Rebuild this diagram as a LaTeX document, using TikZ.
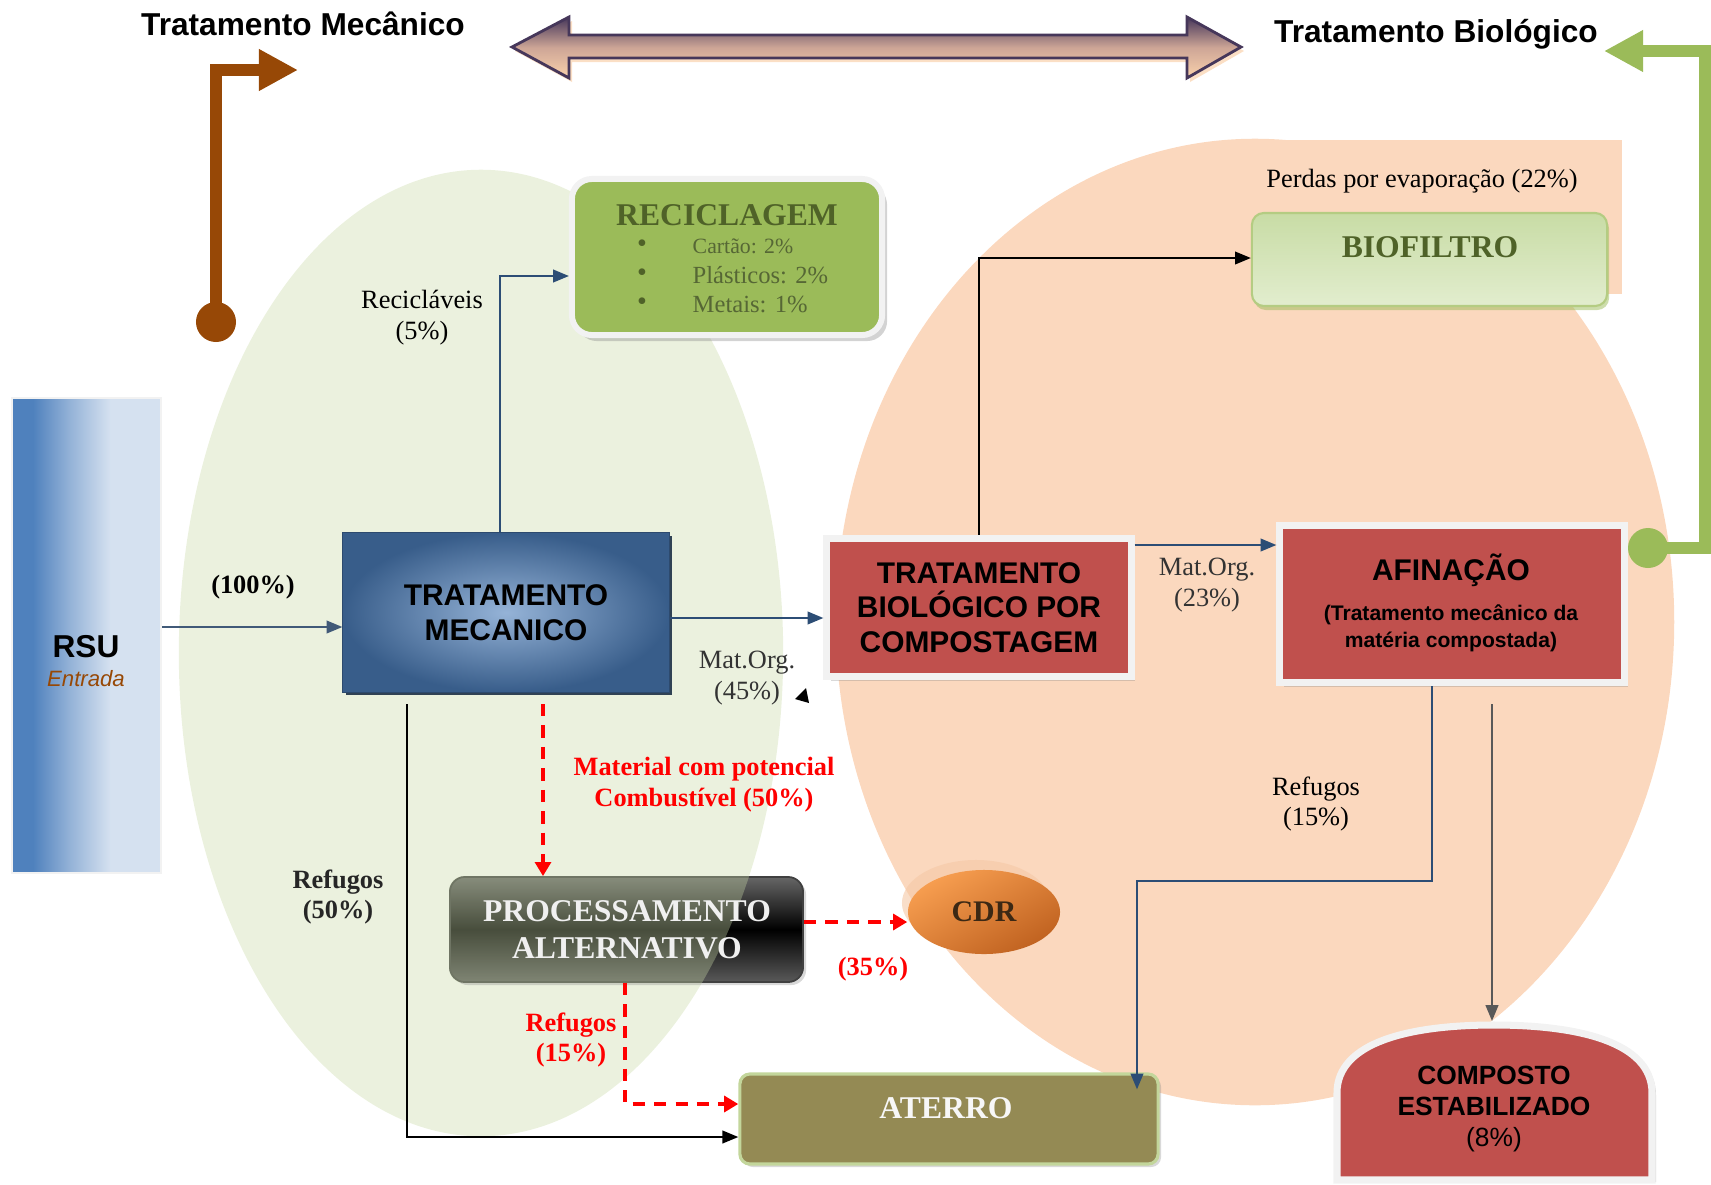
\documentclass[tikz,border=0pt]{standalone}
\usepackage{fontspec}
\setmainfont{Liberation Serif}
\setsansfont{Liberation Sans}
\usetikzlibrary{arrows.meta, positioning, shapes.geometric, shadows, calc}

\definecolor{mecgreen}{RGB}{235,241,222}
\definecolor{biopeach}{RGB}{251,216,190}
\definecolor{flowblue}{RGB}{44,77,117}
\definecolor{rsublue}{RGB}{79,129,189}
\definecolor{rsulight}{RGB}{213,225,240}
\definecolor{tmdark}{RGB}{56,93,138}
\definecolor{tmlight}{RGB}{149,179,215}
\definecolor{recgreen}{RGB}{155,187,89}
\definecolor{olivetxt}{RGB}{79,98,40}
\definecolor{boxred}{RGB}{192,80,77}
\definecolor{boxedge}{RGB}{242,242,242}
\definecolor{aterroolive}{RGB}{148,138,84}
\definecolor{aterroedge}{RGB}{195,214,155}
\definecolor{cdrorange}{RGB}{247,158,80}
\definecolor{cdrdark}{RGB}{192,98,32}
\definecolor{cdrhalo}{RGB}{245,200,165}
\definecolor{cdrtxt}{RGB}{60,40,20}
\definecolor{brownarrow}{RGB}{151,72,6}
\definecolor{greenarrow}{RGB}{155,187,89}
\definecolor{arrowpurple}{RGB}{70,55,90}
\definecolor{arrowmid}{RGB}{205,165,150}
\definecolor{arrowpeach}{RGB}{250,210,172}
\definecolor{biotop}{RGB}{200,220,165}
\definecolor{biobottom}{RGB}{226,237,206}

\pgfdeclarehorizontalshading{rsushade}{100bp}{color(0bp)=(rsublue); color(32bp)=(rsublue); color(44bp)=(rsublue!50!rsulight); color(58bp)=(rsulight); color(100bp)=(rsulight)}

\tikzset{
  flow/.style={draw=flowblue, line width=0.55pt, -{Triangle[length=4.5pt,width=3.6pt]}},
  blkflow/.style={draw=black, line width=0.5pt, -{Triangle[length=4.5pt,width=3.6pt]}},
  redflow/.style={draw=red, line width=1pt, dash pattern=on 3.5pt off 2.6pt, -{Triangle[length=4pt,width=4.5pt]}},
  lbl/.style={font=\fontsize{7.5}{8.8}\selectfont, align=center, inner sep=0pt},
  lblbold/.style={lbl, font=\bfseries\fontsize{7.5}{8.8}\selectfont},
  redlbl/.style={lblbold, text=red},
  headtitle/.style={font=\sffamily\bfseries\fontsize{9}{11}\selectfont, inner sep=0pt},
  boxfont/.style={font=\sffamily\bfseries\fontsize{8.5}{9.8}\selectfont, align=center},
  redbox/.style={fill=boxred, draw=boxedge, line width=2pt,
    drop shadow={shadow xshift=0.04cm, shadow yshift=-0.04cm, opacity=0.3}},
  bigarrow/.style={line width=0.12cm, -{Triangle[length=0.39cm,width=0.39cm]}},
}

\begin{document}
\begin{tikzpicture}[x=0.01cm, y=-0.01cm]
  \useasboundingbox (0,0) rectangle (1711,1184);

  % zonas de fundo
  \fill[mecgreen] (481,653) ellipse [x radius=3.02cm, y radius=4.83cm];
  \fill[biopeach] (1255,622) ellipse [x radius=4.19cm, y radius=4.83cm];
  \fill[biopeach] (1250,140) rectangle (1622,294);

  % titulos e seta dupla
  \node[headtitle] (tmec) at (303,24) {Tratamento Mecânico};
  \node[headtitle] (tbio) at (1436,34) {Tratamento Biológico};
  \fill[arrowpeach, opacity=0.7, shift={(3,4)}] (512,47) -- (569,17) -- (569,35) -- (1187,35) -- (1187,17) -- (1241,47)
    -- (1187,78) -- (1187,58) -- (569,58) -- (569,78) -- cycle;
  \draw[arrowpurple, line width=0.8pt, top color=arrowpurple, bottom color=arrowpeach, middle color=arrowmid]
    (512,47) -- (569,17) -- (569,35) -- (1187,35) -- (1187,17) -- (1241,47)
    -- (1187,78) -- (1187,58) -- (569,58) -- (569,78) -- cycle;

  \node[circle, fill=brownarrow, minimum size=0.4cm, inner sep=0] (mecdot) at (216,322) {};
  \coordinate (meccorner) at (216,70);
  \coordinate (mectip) at (298,70);
  \draw[bigarrow, brownarrow] (mecdot.center) -- (meccorner) -- (mectip);

  \node[circle, fill=greenarrow, minimum size=0.4cm, inner sep=0] (biodot) at (1648,548) {};
  \coordinate (bioa) at (1705,548);
  \coordinate (biob) at (1705,51);
  \coordinate (biotip) at (1604,51);
  \draw[bigarrow, greenarrow] (biodot.center) -- (bioa) -- (biob) -- (biotip);

  % entrada
  \node[draw=boxedge, line width=0.6pt, shading=rsushade, minimum width=1.49cm, minimum height=4.75cm, inner sep=0] (rsu) at (86.5,635.5) {};
  \node[font=\sffamily\bfseries\fontsize{9}{10}\selectfont, inner sep=0] (rsulbl) at (86,647) {RSU};
  \node[font=\sffamily\itshape\fontsize{6.3}{7}\selectfont, text=brownarrow, inner sep=0] (rsuin) at (86,679) {Entrada};

  % tratamento mecanico
  \node[minimum width=3.26cm, minimum height=1.59cm, inner color=tmlight, outer color=tmdark, draw=tmdark!80!black, line width=0.3pt,
    drop shadow={shadow xshift=0.03cm, shadow yshift=-0.03cm, fill=tmdark!50!black, opacity=0.9}, boxfont] (tm) at (506,612.5) {TRATAMENTO\\MECANICO};

  \node[fill=recgreen, draw=boxedge, line width=1.7pt, rounded corners=0.2cm, minimum width=3.1cm, minimum height=1.56cm,
    drop shadow={shadow xshift=0.05cm, shadow yshift=-0.06cm, opacity=0.35}] (recic) at (727,257) {};
  \node[font=\bfseries\fontsize{9}{10}\selectfont, text=olivetxt, inner sep=0] (rectitle) at (727,215) {RECICLAGEM};
  \foreach \i/\y/\fs/\txt in {1/246/6.2/Cartão: 2\%, 2/275/7/Plásticos: 2\%, 3/304/7/Metais: 1\%} {
    \node[font=\fontsize{8}{8}\selectfont, text=olivetxt, inner sep=0] (bul\i) at (642,\y) {\textbullet};
    \node[font=\fontsize{\fs}{8}\selectfont, text=olivetxt!85!gray, anchor=west, inner sep=0] (item\i) at (692,\y) {\txt};
  }

  % tratamento biologico
  \node[redbox, boxfont, minimum width=3.04cm, minimum height=1.38cm] (tbc) at (979,607.5) {TRATAMENTO\\BIOLÓGICO POR\\COMPOSTAGEM};

  \node[top color=biotop, bottom color=biobottom, draw=recgreen!75!white, line width=0.6pt, rounded corners=0.12cm,
    minimum width=3.55cm, minimum height=0.93cm, drop shadow={shadow xshift=0.02cm, shadow yshift=-0.04cm, fill=recgreen, opacity=0.5}] (biof) at (1429.5,259.5) {};
  \node[font=\bfseries\fontsize{9}{10}\selectfont, text=olivetxt, inner sep=0] (biotitle) at (1430,247) {BIOFILTRO};

  \node[redbox, minimum width=3.44cm, minimum height=1.57cm] (afin) at (1452,604) {};
  \node[boxfont, inner sep=0] (afintitle) at (1451,570) {AFINAÇÃO};
  \node[font=\sffamily\bfseries\fontsize{6}{7.6}\selectfont, align=center, inner sep=0] (afinsub) at (1451,628.5) {(Tratamento mecânico da\\matéria compostada)};

  \coordinate (cptop) at (1492,1021);
  \path[fill=boxred, draw=boxedge, line width=2pt, drop shadow={shadow xshift=0.04cm, shadow yshift=-0.02cm, opacity=0.3}]
    (1337,1180) -- (1337,1093) .. controls (1337,1042) and (1410,1025) .. (1494,1025)
    .. controls (1578,1025) and (1652,1042) .. (1652,1093) -- (1652,1180) -- cycle;
  \node[font=\sffamily\bfseries\fontsize{7.5}{8.9}\selectfont, align=center, inner sep=0] (cptxt) at (1494,1109) {COMPOSTO\\ESTABILIZADO\\{\mdseries (8\%)}};

  % processamento alternativo, CDR, aterro
  \node[rounded corners=0.15cm, minimum width=3.53cm, minimum height=1.05cm, top color=black!60, bottom color=black!65, middle color=black,
    draw=black!75, line width=0.5pt, drop shadow={shadow xshift=0.03cm, shadow yshift=-0.03cm, opacity=0.3}] (proc) at (626.5,929.5) {};
  \begin{scope}
    \clip (481,653) ellipse [x radius=3.02cm, y radius=4.83cm];
    \fill[rounded corners=0.15cm, fill={rgb,255:red,190;green,205;blue,160}, opacity=0.38] (proc.south west) rectangle (proc.north east);
  \end{scope}
  \node[font=\bfseries\fontsize{9}{10.5}\selectfont, text=white!88!gray, align=center, inner sep=0] (proctxt) at (627,929.5) {PROCESSAMENTO\\ALTERNATIVO};

  \fill[cdrhalo, opacity=0.6] (976,903) ellipse [x radius=0.74cm, y radius=0.43cm];
  \node[ellipse, minimum width=1.52cm, minimum height=0.84cm, top color=cdrorange, bottom color=cdrdark, shading angle=30,
    font=\bfseries\fontsize{8.5}{10}\selectfont, text=cdrtxt, inner sep=0] (cdr) at (984,912) {CDR};

  \node[fill=aterroolive, draw=aterroedge, line width=0.9pt, rounded corners=0.1cm, minimum width=4.18cm, minimum height=0.9cm,
    drop shadow={shadow xshift=0.03cm, shadow yshift=-0.03cm, opacity=0.3}] (aterro) at (949,1119) {};
  \node[font=\bfseries\fontsize{9}{10}\selectfont, text=white!94!gray, inner sep=0] (aterrotxt) at (946,1108) {ATERRO};

  % fluxos
  \coordinate (yin) at (0,627);
  \draw[flow, draw=flowblue!75!gray] (rsu.east |- yin) -- (tm.west |- yin);
  \node[lblbold] (pin) at (253,587) {(100\%)};

  \coordinate (recup) at (500,276);
  \draw[flow] (tm.north -| recup) |- (recic.west |- recup);
  \node[lbl] (plrec) at (422,318) {Recicláveis\\(5\%)};

  \coordinate (yorg) at (0,618);
  \draw[flow] (tm.east |- yorg) -- (tbc.west |- yorg);
  \node[lbl, text=black!80] (pl45) at (747,678) {Mat.Org.\\(45\%)};
  \fill (806,688) -- (795,699) -- (809,703) -- cycle;

  \coordinate (biolev) at (0,258);
  \draw[blkflow] (tbc.north) |- (biof.west |- biolev);
  \node[lbl] (plevap) at (1422,181) {Perdas por evaporação (22\%)};

  \coordinate (yaf) at (0,545);
  \draw[flow] (tbc.east |- yaf) -- (afin.west |- yaf);
  \node[lbl, text=black!80] (pl23) at (1207,585) {Mat.Org.\\(23\%)};

  \coordinate (refa) at (1432,881);
  \coordinate (refb) at (1137,881);
  \draw[flow] (afin.south -| refa) -- (refa) -- (refb) -- ($(aterro.north -| refb)+(0,17)$);
  \node[lbl] (plref15) at (1316,804) {Refugos\\(15\%)};

  \coordinate (cpstart) at (1492,704);
  \draw[flow, draw=black!65] (cpstart) -- (cptop);

  \coordinate (rfstart) at (407,704);
  \coordinate (rfcorner) at (407,1137);
  \draw[blkflow] (rfstart) -- (rfcorner) -- (aterro.west |- rfcorner);
  \node[lblbold, text=black!85] (plref50) at (338,897) {Refugos\\(50\%)};

  \coordinate (cbstart) at (543,704);
  \draw[redflow] (cbstart) -- (proc.north -| cbstart);
  \node[redlbl] (plcomb) at (704,785) {Material com potencial\\Combustível (50\%)};

  \coordinate (ycdr) at (0,922);
  \draw[redflow] (proc.east |- ycdr) -- (cdr.west |- ycdr);
  \node[redlbl] (pl35) at (873,969) {(35\%)};

  \coordinate (rdx) at (625,1104);
  \draw[redflow] (proc.south -| rdx) |- (aterro.west |- rdx);
  \node[redlbl] (plref15r) at (571,1040) {Refugos\\(15\%)};
\end{tikzpicture}
\end{document}
